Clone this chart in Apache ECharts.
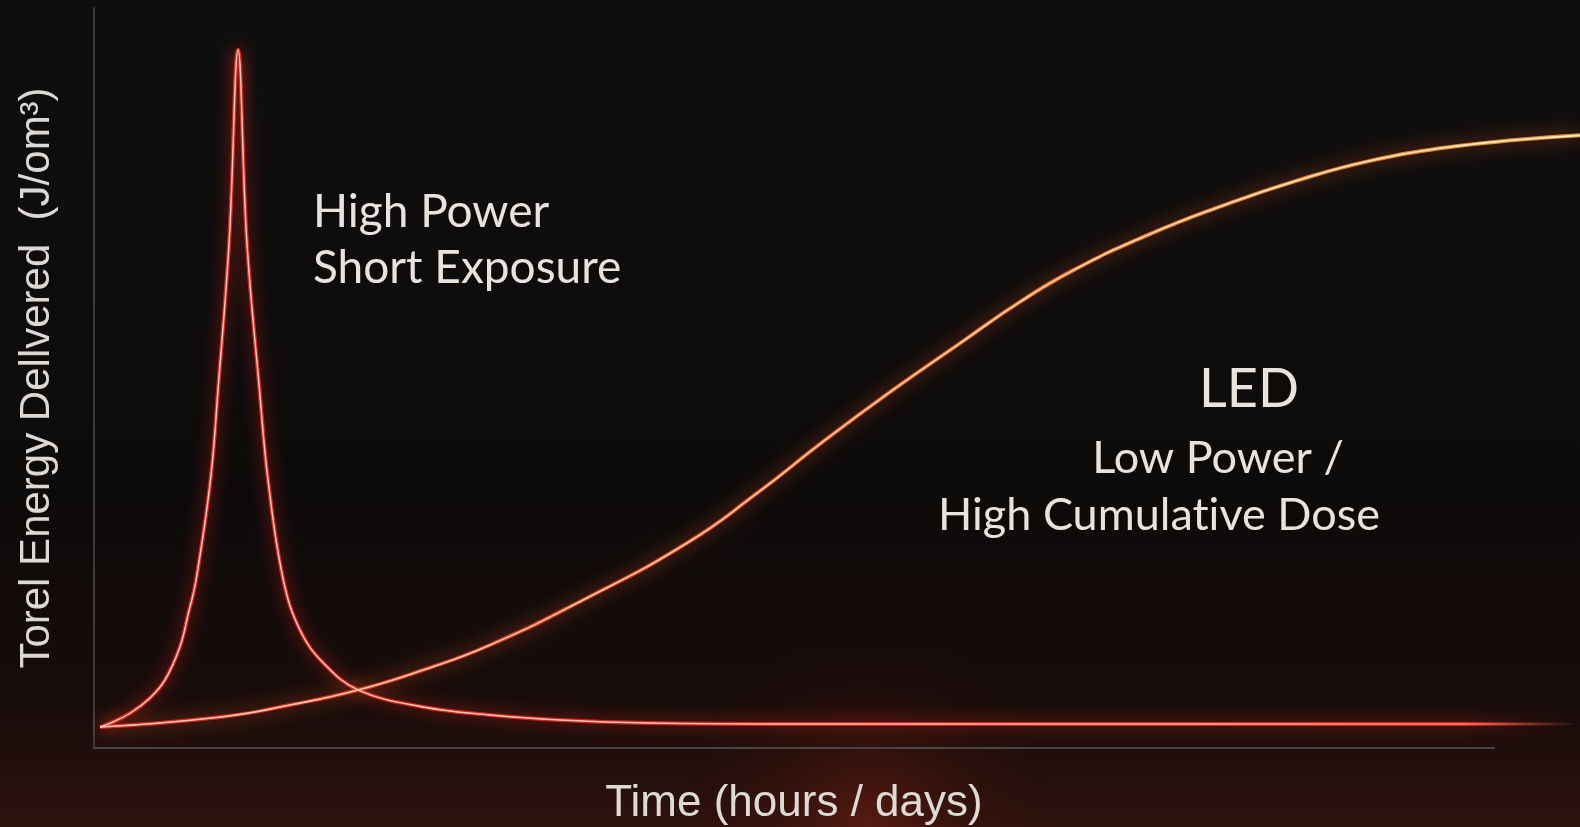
<!DOCTYPE html>
<html>
<head>
<meta charset="utf-8">
<script src="https://cdn.jsdelivr.net/npm/echarts@6/dist/echarts.min.js"></script>
<style>
html,body{margin:0;padding:0;background:#0e0c0c;}
#chart{width:1580px;height:827px;}
</style>
</head>
<body>
<div id="chart"></div>
<script>
// Time axis (arbitrary units, hours / days)
const peakTime   = [0.43, 1.14, 2.57, 4.0, 5.07, 6.14, 6.74, 7.29, 8.32, 8.86, 9.66, 10.29, 10.91, 11.82, 12.43, 13.52, 14.71, 16.38, 18.88, 23.52, 28.29, 33.3, 39.7, 50.4, 106.14];
const peakEnergy = [-0.45, 0.10, 1.59, 3.86, 6.53, 11.47, 16.42, 21.36, 36.2, 49.6, 71.8, 100, 71.8, 49.6, 36.2, 21.4, 13.95, 9.05, 5.04, 2.52, 1.34, 0.6, 0.15, 0, 0];

const ledTime   = [0.43, 9.21, 14.0, 18.86, 23.5, 28.29, 34.93, 42.36, 47.29, 52.14, 57.07, 62.0, 66.14, 70.0, 75.29, 80.57, 85.86, 91.14, 96.43, 101.71, 106.14];
const ledEnergy = [-0.45, 1.08, 2.82, 5.04, 8.01, 11.72, 18.4, 26.85, 34.12, 41.99, 49.55, 56.68, 62.61, 67.36, 72.55, 76.85, 80.56, 83.53, 85.46, 86.65, 87.31];

const xAxisName = 'Time (hours / days)';
const yAxisName = 'Torel Energy Dellvered  (J/om\u00B3)';
const peakLabel = ['High Power', 'Short Exposure'];
const ledTitle = 'LED';
const ledLabel = ['Low Power /', 'High Cumulat\u200Cive Dose'];

const peakData = peakTime.map((t, i) => [t, peakEnergy[i]]);
const ledData = ledTime.map((t, i) => [t, ledEnergy[i]]);

const chart = echarts.init(document.getElementById('chart'), null, {renderer: 'canvas'});
const G = echarts.graphic;
const textFill = '#e8e3dc';

const peakFade = (a) => new G.LinearGradient(0, 0, 1, 0, [
  {offset: 0, color: `rgba(225,40,30,${a})`},
  {offset: 0.92, color: `rgba(225,40,30,${a})`},
  {offset: 0.96, color: `rgba(225,40,30,${a * 0.35})`},
  {offset: 0.995, color: 'rgba(225,40,30,0)'}
]);

const option = {
  animation: false,
  backgroundColor: '#0e0c0c',
  grid: [
    {left: 94, right: 86, top: 8, bottom: 79, outerBoundsMode: 'none', containLabel: false},
    {left: 94, right: 0, top: 8, bottom: 79, outerBoundsMode: 'none', containLabel: false}
  ],
  xAxis: [
    {
      gridIndex: 0, type: 'value', min: 0, max: 100,
      axisLine: {show: true, onZero: false, lineStyle: {color: '#4a4545', width: 2}},
      axisTick: {show: false}, axisLabel: {show: false}, splitLine: {show: false},
      name: xAxisName, nameLocation: 'middle', nameGap: 34,
      nameTextStyle: {color: '#dedad6', fontSize: 44, fontFamily: 'Liberation Sans'}
    },
    {
      gridIndex: 1, type: 'value', min: 0, max: 106.14, show: false
    }
  ],
  yAxis: [
    {
      gridIndex: 0, type: 'value', min: -3.56, max: 106.2,
      axisLine: {show: true, onZero: false, lineStyle: {color: '#3e3a3a', width: 2}},
      axisTick: {show: false}, axisLabel: {show: false}, splitLine: {show: false},
      name: yAxisName, nameLocation: 'middle', nameGap: 36,
      nameTextStyle: {color: '#dcd8d4', fontSize: 42, fontFamily: 'Liberation Sans'}
    },
    {
      gridIndex: 1, type: 'value', min: -3.56, max: 106.2, show: false
    }
  ],
  graphic: [
    {
      type: 'rect', z: -10, silent: true,
      shape: {x: 0, y: 0, width: 1580, height: 827},
      style: {fill: new G.LinearGradient(0, 0, 0, 1, [
        {offset: 0, color: '#0f0e0e'},
        {offset: 0.6, color: '#0d0a0a'},
        {offset: 0.86, color: '#180c0a'},
        {offset: 1, color: '#2e120e'}
      ])}
    },
    {
      type: 'rect', z: -9, silent: true,
      shape: {x: 0, y: 560, width: 1580, height: 267},
      style: {fill: new G.RadialGradient(0.55, 1.0, 0.75, [
        {offset: 0, color: 'rgba(120,34,20,0.55)'},
        {offset: 0.5, color: 'rgba(80,20,12,0.25)'},
        {offset: 1, color: 'rgba(40,10,8,0)'}
      ])}
    },
    {type: 'text', z: 10, x: 313, y: 212, style: {text: peakLabel[0], fill: textFill, font: '46px Lato', textAlign: 'left', textVerticalAlign: 'middle'}},
    {type: 'text', z: 10, x: 313, y: 268, style: {text: peakLabel[1], fill: textFill, font: '46px Lato', textAlign: 'left', textVerticalAlign: 'middle'}},
    {type: 'text', z: 10, x: 1249, y: 390, style: {text: ledTitle, fill: textFill, font: '54px Lato', textAlign: 'center', textVerticalAlign: 'middle'}},
    {type: 'text', z: 10, x: 1218, y: 458, style: {text: ledLabel[0], fill: textFill, font: '45px Lato', textAlign: 'center', textVerticalAlign: 'middle'}},
    {type: 'text', z: 10, x: 1159, y: 515, style: {text: ledLabel[1], fill: textFill, font: '45px Lato', textAlign: 'center', textVerticalAlign: 'middle'}}
  ],
  series: [
    {
      name: 'High Power glow', type: 'line', xAxisIndex: 1, yAxisIndex: 1,
      data: peakData, smooth: 0.4, showSymbol: false, symbol: 'none', z: 3,
      lineStyle: {width: 4, color: peakFade(0.9), shadowBlur: 16, shadowColor: 'rgba(230,40,25,0.9)'}
    },
    {
      name: 'LED glow', type: 'line', xAxisIndex: 1, yAxisIndex: 1,
      data: ledData, smooth: 0.5, showSymbol: false, symbol: 'none', z: 3,
      lineStyle: {
        width: 4,
        color: new G.LinearGradient(0, 0, 1, 0, [
          {offset: 0, color: 'rgba(225,40,30,0.9)'},
          {offset: 0.4, color: 'rgba(235,70,30,0.9)'},
          {offset: 0.7, color: 'rgba(240,120,40,0.9)'},
          {offset: 1, color: 'rgba(245,160,60,0.9)'}
        ]),
        shadowBlur: 18, shadowColor: 'rgba(235,90,30,0.85)'
      }
    },
    {
      name: 'High Power', type: 'line', xAxisIndex: 1, yAxisIndex: 1,
      data: peakData, smooth: 0.4, showSymbol: false, symbol: 'none', z: 4,
      lineStyle: {
        width: 1.4,
        color: new G.LinearGradient(0, 0, 1, 0, [
          {offset: 0, color: '#ffd0c4'},
          {offset: 0.75, color: '#ffb8a8'},
          {offset: 0.92, color: 'rgba(255,150,120,0.85)'},
          {offset: 0.97, color: 'rgba(255,150,120,0.25)'},
          {offset: 1, color: 'rgba(255,150,120,0)'}
        ])
      }
    },
    {
      name: 'LED', type: 'line', xAxisIndex: 1, yAxisIndex: 1,
      data: ledData, smooth: 0.5, showSymbol: false, symbol: 'none', z: 4,
      lineStyle: {
        width: 1.6,
        color: new G.LinearGradient(0, 0, 1, 0, [
          {offset: 0, color: '#ffc8b8'},
          {offset: 0.5, color: '#ffd0a8'},
          {offset: 1, color: '#fff0c8'}
        ])
      }
    }
  ]
};
chart.setOption(option);
</script>
</body>
</html>
